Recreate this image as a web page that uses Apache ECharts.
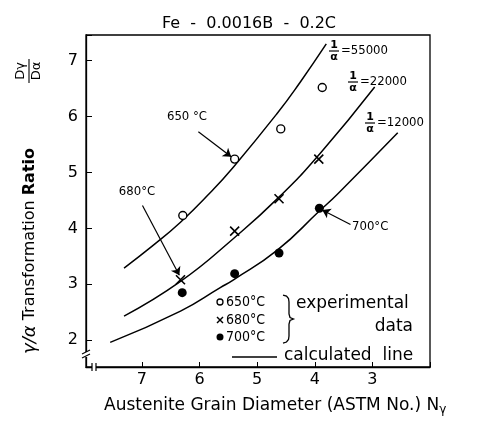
<!DOCTYPE html>
<html><head><meta charset="utf-8">
<script src="https://cdn.jsdelivr.net/npm/echarts@6/dist/echarts.min.js"></script>
<style>html,body{margin:0;padding:0;background:#fff}#c{width:485px;height:427px}</style>
</head><body><div id="c"></div>
<script>
// ---- data ----
const titleText = 'Fe  -  0.0016B  -  0.2C';
const xTickValues = [3, 4, 5, 6, 7];
const yTickValues = [2, 3, 4, 5, 6, 7];
const exp650 = [[6.29, 4.23], [5.39, 5.24], [4.59, 5.78], [3.87, 6.52]];
const exp680 = [[6.33, 3.08], [5.39, 3.95], [4.62, 4.53], [3.93, 5.24]];
const exp700 = [[6.30, 2.85], [5.39, 3.19], [4.62, 3.56], [3.92, 4.36]];
const calc55000 = [[7.31, 3.29], [6.80, 3.70], [6.33, 4.11], [5.85, 4.60], [5.41, 5.10], [4.65, 6.06], [4.25, 6.62], [3.80, 7.30]];
const calc22000 = [[7.31, 2.43], [6.33, 3.05], [5.41, 3.82], [4.63, 4.55], [3.90, 5.35], [2.96, 6.53]];
const calc12000 = [[7.55, 1.96], [6.33, 2.52], [5.64, 2.94], [5.41, 3.08], [4.65, 3.61], [3.92, 4.31], [3.59, 4.63], [2.56, 5.71]];
const arrow650 = [[6.02, 5.73], [5.45, 5.28]];
const arrow680 = [[6.99, 4.41], [6.35, 3.16]];
const arrow700 = [[3.38, 4.07], [3.87, 4.33]];

const FONT = '"DejaVu Sans", sans-serif';
const COND = '"DejaVu Sans Condensed", "Liberation Sans Narrow", "DejaVu Sans", sans-serif';
const chart = echarts.init(document.getElementById('c'), null, {renderer: 'canvas'});

function arrowML(a) {
  return {
    silent: true, animation: false,
    symbol: ['none', 'arrow'], symbolSize: 8,
    label: {show: false},
    lineStyle: {color: '#000', width: 1.2, type: 'solid', opacity: 1},
    emphasis: {disabled: true},
    data: [[{coord: a[0]}, {coord: a[1]}]]
  };
}
const lineStyle = {color: '#000', width: 1.5};

function frac(cx, cy, size) {
  return [
    {type: 'text', x: cx, y: cy - 6, style: {text: '1', font: 'bold ' + size + 'px ' + FONT, fill: '#000', align: 'center', verticalAlign: 'middle'}},
    {type: 'line', shape: {x1: cx - 5, y1: cy, x2: cx + 5, y2: cy}, style: {stroke: '#000', lineWidth: 1.2}},
    {type: 'text', x: cx, y: cy + 6, style: {text: 'α', font: 'bold ' + size + 'px ' + FONT, fill: '#000', align: 'center', verticalAlign: 'middle'}}
  ];
}
function seg(x1, y1, x2, y2, w) {
  return {type: 'line', shape: {x1, y1, x2, y2}, style: {stroke: '#000', lineWidth: w || 1.3}, z: 101};
}

const option = {
  backgroundColor: '#fff',
  animation: false,
  title: {
    text: titleText, left: 244, top: 11, textAlign: 'center',
    textStyle: {fontFamily: FONT, fontSize: 16, fontWeight: 'normal', color: '#000'}
  },
  grid: {left: 86, right: 55, top: 35, bottom: 60, show: true, borderColor: '#000', borderWidth: 1.3, backgroundColor: 'transparent'},
  xAxis: {
    type: 'value', inverse: true, min: 2, max: 7.97, interval: 1,
    axisLine: {show: true, onZero: false, lineStyle: {color: '#000', width: 1.3}},
    axisTick: {show: true, inside: true, length: 5, lineStyle: {color: '#000'}},
    splitLine: {show: false},
    axisLabel: {
      color: '#000', fontSize: 16, fontFamily: FONT, margin: 5,
      formatter: v => xTickValues.indexOf(v) >= 0 ? String(v) : ''
    }
  },
  yAxis: {
    type: 'value', min: 1.52, max: 7.46, splitNumber: 6,
    axisLine: {show: true, onZero: false, lineStyle: {color: '#000', width: 1.3}},
    axisTick: {show: true, inside: true, length: 6, lineStyle: {color: '#000'}},
    splitLine: {show: false},
    axisLabel: {
      color: '#000', fontSize: 16, fontFamily: FONT, margin: 8,
      formatter: v => yTickValues.indexOf(v) >= 0 ? String(v) : ''
    }
  },
  series: [
    {type: 'line', data: calc55000, smooth: true, symbol: 'none', lineStyle, silent: true},
    {type: 'line', data: calc22000, smooth: true, symbol: 'none', lineStyle, silent: true},
    {type: 'line', data: calc12000, smooth: true, symbol: 'none', lineStyle, silent: true},
    {type: 'scatter', data: exp650, symbol: 'circle', symbolSize: 8,
     itemStyle: {color: '#fff', borderColor: '#000', borderWidth: 1.4, opacity: 1}, z: 5, markLine: arrowML(arrow650)},
    {type: 'scatter', data: exp680, symbol: 'path://M0,0L10,10M10,0L0,10', symbolSize: 9,
     itemStyle: {color: 'none', borderColor: '#000', borderWidth: 1.6, opacity: 1}, z: 5, markLine: arrowML(arrow680)},
    {type: 'scatter', data: exp700, symbol: 'circle', symbolSize: 9,
     itemStyle: {color: '#000', borderColor: '#000', borderWidth: 0, opacity: 1}, z: 5, markLine: arrowML(arrow700)}
  ],
  graphic: [
    // y axis title (rotated)
    {type: 'text', x: 30, y: 251, rotation: Math.PI / 2,
     style: {
       text: '{g|γ/α} Transformation {b|Ratio}',
       font: '16px ' + FONT, fill: '#000', align: 'center', verticalAlign: 'middle',
       rich: {
         g: {font: 'italic 18px ' + FONT, fill: '#000'},
         b: {font: 'bold 16px ' + FONT, fill: '#000'}
       }
     }},
    {type: 'group', x: 29, y: 71, rotation: Math.PI / 2, children: [
      {type: 'text', x: 0, y: -8, style: {text: 'Dγ', font: '13px ' + FONT, fill: '#000', align: 'center', verticalAlign: 'middle'}},
      {type: 'line', shape: {x1: -12, y1: 0, x2: 12, y2: 0}, style: {stroke: '#000', lineWidth: 1.1}},
      {type: 'text', x: 0, y: 8, style: {text: 'Dα', font: '13px ' + FONT, fill: '#000', align: 'center', verticalAlign: 'middle'}}
    ]},
    // x axis title
    {type: 'text', x: 104, y: 406,
     style: {
       text: 'Austenite Grain Diameter (ASTM No.) {n|N}{s|γ}',
       font: '17px ' + FONT, fill: '#000', align: 'left', verticalAlign: 'middle',
       rich: {n: {font: '17px ' + FONT, fill: '#000'}, s: {font: '12px ' + FONT, fill: '#000', padding: [8, 0, 0, 0]}}
     }},
    // annotations
    {type: 'text', x: 187, y: 117, style: {text: '650 °C', font: '13px ' + COND, fill: '#000', align: 'center', verticalAlign: 'middle'}},
    {type: 'text', x: 137, y: 192, style: {text: '680°C', font: '13px ' + COND, fill: '#000', align: 'center', verticalAlign: 'middle'}},
    {type: 'text', x: 352, y: 227, style: {text: '700°C', font: '13px ' + COND, fill: '#000', align: 'left', verticalAlign: 'middle'}},
    // curve labels
    ...frac(334, 51, 11),
    {type: 'text', x: 341, y: 51, style: {text: '=55000', font: '13px ' + COND, fill: '#000', align: 'left', verticalAlign: 'middle'}},
    ...frac(353, 82, 11),
    {type: 'text', x: 360, y: 82, style: {text: '=22000', font: '13px ' + COND, fill: '#000', align: 'left', verticalAlign: 'middle'}},
    ...frac(370, 123, 11),
    {type: 'text', x: 377, y: 123, style: {text: '=12000', font: '13px ' + COND, fill: '#000', align: 'left', verticalAlign: 'middle'}},
    // legend
    {type: 'circle', shape: {cx: 220, cy: 302, r: 3}, style: {fill: '#fff', stroke: '#000', lineWidth: 1.3}},
    {type: 'text', x: 226, y: 302, style: {text: '650°C', font: '14px ' + COND, fill: '#000', align: 'left', verticalAlign: 'middle'}},
    seg(217, 317, 223, 323, 1.4), seg(223, 317, 217, 323, 1.4),
    {type: 'text', x: 226, y: 320, style: {text: '680°C', font: '14px ' + COND, fill: '#000', align: 'left', verticalAlign: 'middle'}},
    {type: 'circle', shape: {cx: 220, cy: 337, r: 3.5}, style: {fill: '#000'}},
    {type: 'text', x: 226, y: 337, style: {text: '700°C', font: '14px ' + COND, fill: '#000', align: 'left', verticalAlign: 'middle'}},
    {type: 'polyline', shape: {points: [[283, 295], [286.5, 296], [288.5, 298.5], [289, 302], [289, 314], [290, 317.5], [293.5, 319], [290, 320.5], [289, 324], [289, 336], [288.5, 339.5], [286.5, 342], [283, 343]]},
     style: {fill: 'none', stroke: '#000', lineWidth: 1.3}},
    {type: 'text', x: 296, y: 304, style: {text: 'experimental', font: '17px ' + FONT, fill: '#000', align: 'left', verticalAlign: 'middle'}},
    {type: 'text', x: 413, y: 327, style: {text: 'data', font: '17px ' + FONT, fill: '#000', align: 'right', verticalAlign: 'middle'}},
    seg(232, 357, 277, 357, 1.3),
    {type: 'text', x: 284, y: 356, style: {text: 'calculated  line', font: '17px ' + FONT, fill: '#000', align: 'left', verticalAlign: 'middle'}},
    // axis break marks
    {type: 'rect', shape: {x: 83, y: 352, width: 6, height: 5}, style: {fill: '#fff'}, z: 100},
    seg(82, 354, 90, 350, 1.2), seg(82, 358, 90, 354, 1.2),
    {type: 'rect', shape: {x: 92, y: 364, width: 4, height: 6}, style: {fill: '#fff'}, z: 100},
    seg(92, 363, 92, 371, 1.2), seg(96, 363, 96, 371, 1.2)
  ]
};
chart.setOption(option);
</script>
</body></html>
